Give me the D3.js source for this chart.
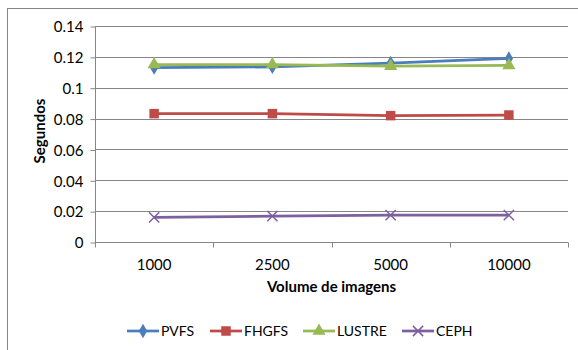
<!DOCTYPE html>
<html>
<head>
<meta charset="utf-8">
<script src="https://cdn.jsdelivr.net/npm/d3@7"></script>
<style>
  body { margin: 0; background: #fff; }
  text { font-family: Lato, "Open Sans", sans-serif; fill: #000; }
</style>
</head>
<body>
<script>
const W = 578, H = 350;

const volumes = ["1000", "2500", "5000", "10000"];
const pvfs = [0.113, 0.1135, 0.116, 0.119];
const fhgfs = [0.0832, 0.0832, 0.0819, 0.0823];
const lustre = [0.115, 0.115, 0.114, 0.1145];
const ceph = [0.016, 0.0168, 0.0174, 0.0174];
const yTicks = [0, 0.02, 0.04, 0.06, 0.08, 0.1, 0.12, 0.14];

const series = [
  { name: "PVFS", values: pvfs, color: "#4a7ebb", marker: "diamond" },
  { name: "FHGFS", values: fhgfs, color: "#be4b48", marker: "square" },
  { name: "LUSTRE", values: lustre, color: "#98b954", marker: "triangle" },
  { name: "CEPH", values: ceph, color: "#7d60a0", marker: "cross" }
];

const m = { l: 95, r: 10, t: 26, b: 108 };
const svg = d3.select("body").append("svg").attr("width", W).attr("height", H);

// outer frame
svg.append("rect")
  .attr("x", 7.5).attr("y", 8.5)
  .attr("width", W).attr("height", H)
  .attr("fill", "none").attr("stroke", "#868686").attr("stroke-width", 1);

const x = d3.scaleBand().domain(volumes).range([m.l, W - m.r]);
const y = d3.scaleLinear().domain([0, 0.14]).range([H - m.b, m.t]);

// gridlines
svg.append("g")
  .selectAll("line")
  .data(yTicks.slice(1))
  .join("line")
  .attr("x1", m.l).attr("x2", W - m.r)
  .attr("y1", d => Math.round(y(d)) + 0.5).attr("y2", d => Math.round(y(d)) + 0.5)
  .attr("stroke", "#868686");

// y axis
const yAxis = d3.axisLeft(y).tickValues(yTicks).tickSize(5).tickPadding(7)
  .tickFormat(d => d3.format("")(+d.toFixed(2)));
const gy = svg.append("g").attr("transform", `translate(${m.l + 0.5},0.5)`).call(yAxis);
gy.selectAll("line, path").attr("stroke", "#868686");
gy.select(".domain").attr("d", `M0,${y(0.14)}V${y(0)}`);
gy.selectAll("text").style("font-size", "15px").attr("dy", "0.35em");

// x axis
const bounds = [m.l].concat(volumes.map(v => x(v) + x.bandwidth()));
const gx = svg.append("g").attr("transform", `translate(0,${Math.round(y(0)) + 0.5})`);
gx.append("line").attr("x1", m.l).attr("x2", W - m.r).attr("stroke", "#868686");
gx.selectAll(".tk").data(bounds).join("line")
  .attr("x1", d => Math.round(d) + 0.5).attr("x2", d => Math.round(d) + 0.5)
  .attr("y1", 0).attr("y2", 5).attr("stroke", "#868686");
gx.selectAll(".lb").data(volumes).join("text")
  .attr("x", d => x(d) + x.bandwidth() / 2)
  .attr("y", 27)
  .attr("text-anchor", "middle")
  .style("font-size", "15px")
  .text(d => d);

// axis titles
svg.append("text")
  .attr("x", (m.l + W - m.r) / 2).attr("y", 292)
  .attr("text-anchor", "middle")
  .style("font-size", "15px").style("font-weight", "bold")
  .text("Volume de imagens");
svg.append("text")
  .attr("transform", `translate(45,${(y(0.14) + y(0)) / 2 - 3}) rotate(-90)`)
  .attr("text-anchor", "middle")
  .style("font-size", "15px").style("font-weight", "bold")
  .text("Segundos");

const symbols = {
  diamond: d3.symbol().type(d3.symbolDiamond).size(60),
  square: d3.symbol().type(d3.symbolSquare).size(90),
  triangle: d3.symbol().type(d3.symbolTriangle).size(75),
  cross: d3.symbol().type(d3.symbolX).size(70)
};

function drawMarker(g, s, cx, cy) {
  const p = g.append("path")
    .attr("d", symbols[s.marker]())
    .attr("transform", `translate(${cx},${cy})`);
  if (s.marker === "cross") {
    p.attr("fill", "none").attr("stroke", s.color).attr("stroke-width", 1.5);
  } else {
    p.attr("fill", s.color);
  }
}

const line = d3.line()
  .x((d, i) => x(volumes[i]) + x.bandwidth() / 2)
  .y(d => y(d));

const plot = svg.append("g");
series.forEach(s => {
  plot.append("path")
    .attr("d", line(s.values))
    .attr("fill", "none")
    .attr("stroke", s.color)
    .attr("stroke-width", 2.75);
  s.values.forEach((v, i) => drawMarker(plot, s, x(volumes[i]) + x.bandwidth() / 2, y(v)));
});

// legend
const legendX = [127, 210, 303, 402];
const ly = 331;
series.forEach((s, i) => {
  const g = svg.append("g");
  g.append("line")
    .attr("x1", legendX[i]).attr("x2", legendX[i] + 32)
    .attr("y1", ly).attr("y2", ly)
    .attr("stroke", s.color).attr("stroke-width", 2.75);
  drawMarker(g, s, legendX[i] + 16, ly);
  g.append("text")
    .attr("x", legendX[i] + 34).attr("y", ly)
    .attr("dy", "0.35em")
    .style("font-size", "14px")
    .text(s.name);
});
</script>
</body>
</html>
